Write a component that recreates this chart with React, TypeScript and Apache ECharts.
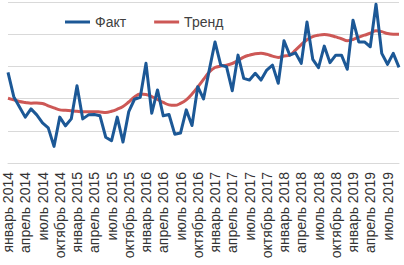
import React, { useEffect, useRef } from "react";
import * as echarts from "echarts";

const monthNames = [
  "январь", "февраль", "март", "апрель", "май", "июнь",
  "июль", "август", "сентябрь", "октябрь", "ноябрь", "декабрь",
];
const years = [2014, 2015, 2016, 2017, 2018, 2019];
const lastYearMonths = 9; // январь–сентябрь 2019

const categories: string[] = [];
years.forEach((y, yi) => {
  const n = yi === years.length - 1 ? lastYearMonths : 12;
  for (let m = 0; m < n; m++) categories.push(`${monthNames[m]} ${y}`);
});

const fact = [
  56.3, 41.2, 34.8, 28.5, 33.6, 29.9, 24.9, 21.8, 10.3, 28.5, 23.1, 27.4,
  48.0, 27.4, 29.9, 30.1, 29.3, 16.0, 13.8, 28.5, 13.0, 31.9, 39.6, 40.8,
  61.9, 30.9, 45.4, 29.3, 30.1, 17.9, 18.6, 33.0, 23.3, 47.4, 39.8, 57.7,
  75.2, 60.8, 59.8, 44.9, 67.0, 52.6, 51.5, 55.7, 51.5, 57.7, 60.8, 49.5,
  75.9, 67.0, 68.4, 61.9, 87.6, 64.4, 59.2, 72.6, 62.3, 67.0, 67.0, 58.2,
  88.7, 75.2, 75.2, 72.2, 98.6, 68.1, 61.3, 68.1, 59.4,
];

const trend = [
  40.2, 39.2, 38.2, 37.6, 37.1, 37.3, 37.0, 35.5, 34.2, 33.0, 32.7, 32.4,
  32.1, 31.9, 31.9, 31.9, 31.7, 31.4, 32.1, 33.4, 35.1, 37.9, 41.0, 42.9,
  42.6, 41.3, 39.5, 37.6, 36.1, 35.8, 37.0, 39.2, 42.9, 47.2, 51.9, 56.5,
  59.3, 60.2, 60.8, 61.8, 63.6, 65.8, 67.0, 67.9, 68.1, 67.5, 66.4, 65.6,
  66.4, 67.0, 70.1, 73.5, 76.6, 78.5, 79.4, 79.8, 79.4, 78.3, 77.2, 76.0,
  76.7, 78.2, 79.4, 80.6, 82.1, 81.6, 80.4, 80.0, 80.0,
];

const seriesNames = ["Факт", "Тренд"];
const colors = ["#1C5896", "#CD5856"];

export default function App() {
  const ref = useRef<HTMLDivElement>(null);
  useEffect(() => {
    if (!ref.current) return;
    const chart = echarts.init(ref.current, undefined, { renderer: "svg" });
    chart.setOption({
      animation: false,
      grid: { left: 8, right: 5, top: 2, bottom: 102, containLabel: false },
      legend: {
        data: seriesNames,
        left: 60,
        top: 10,
        icon: "rect",
        itemWidth: 25,
        itemHeight: 3,
        itemGap: 28,
        textStyle: { fontFamily: "Liberation Sans", fontSize: 14, color: "#404040" },
      },
      xAxis: {
        type: "category",
        data: categories,
        boundaryGap: false,
        axisLine: { lineStyle: { color: "#D9D9D9", width: 1 } },
        axisTick: { show: false },
        axisLabel: {
          rotate: 90,
          interval: 2,
          margin: 9,
          color: "#333333",
          fontFamily: "Liberation Sans",
          fontSize: 14,
        },
      },
      yAxis: {
        type: "value",
        min: 0,
        max: 100,
        interval: 20,
        axisLabel: { show: false },
        axisLine: { show: false },
        axisTick: { show: false },
        splitLine: { lineStyle: { color: "#D9D9D9", width: 1 } },
      },
      series: [
        {
          name: seriesNames[0],
          type: "line",
          data: fact,
          showSymbol: false,
          color: colors[0],
          lineStyle: { width: 3, color: colors[0], join: "round" },
          z: 3,
        },
        {
          name: seriesNames[1],
          type: "line",
          data: trend,
          showSymbol: false,
          smooth: 0.4,
          color: colors[1],
          lineStyle: { width: 3, color: colors[1] },
          z: 2,
        },
      ],
    });
    return () => chart.dispose();
  }, []);
  return (
    <div
      ref={ref}
      style={{ position: "absolute", left: 0, top: 0, width: 404, height: 265, background: "#fff" }}
    />
  );
}
